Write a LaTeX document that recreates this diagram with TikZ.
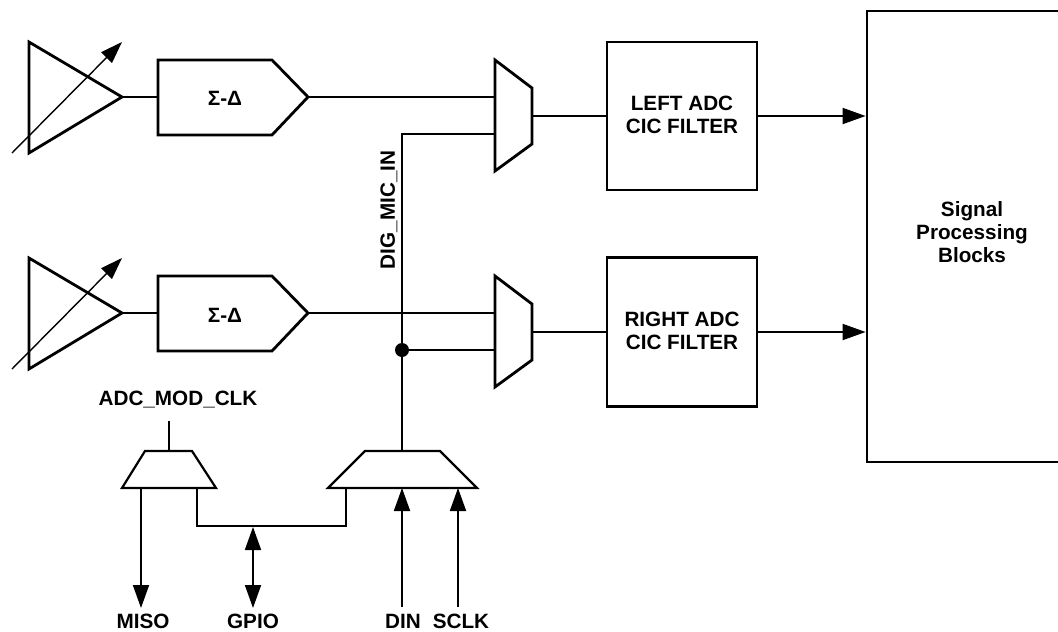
\documentclass[tikz,border=0pt]{standalone}
\usepackage{fontspec}
\setmainfont{Liberation Sans}
\usetikzlibrary{arrows.meta}
\begin{document}
\begin{tikzpicture}[x=1pt,y=-1pt,
  outline/.style={line width=2.8pt, line join=miter},
  thinoutline/.style={line width=2.2pt, line join=miter},
  wire/.style={line width=1.8pt},
  gain/.style={line width=1.4pt, -{Triangle[length=22pt,width=15pt]}},
  tip/.style={-{Triangle[length=23pt,width=16pt]}},
  twotip/.style={{Triangle[length=23pt,width=16pt]}-{Triangle[length=23pt,width=16pt]}},
  lbl/.style={font=\fontsize{20.7}{23}\selectfont\bfseries, inner sep=0pt, align=center},
  blk/.style={draw, line width=2.8pt, lbl},
  junction/.style={circle, fill=black, inner sep=0pt, minimum size=14pt}
]
\useasboundingbox (0,0) rectangle (1058,632);
\clip (0,0) rectangle (1058,632);

% ---------- amplifiers ----------
\draw[outline] (29,42) -- (29,153) -- (122,97) -- cycle;
\coordinate (amp1) at (122,97);
\coordinate (g1s) at (12,153);
\coordinate (g1e) at (122,42);
\draw[gain] (g1s) -- (g1e);

\draw[outline] (29,258) -- (29,369) -- (122,313) -- cycle;
\coordinate (amp2) at (122,313);
\coordinate (g2s) at (12,369);
\coordinate (g2e) at (122,258);
\draw[gain] (g2s) -- (g2e);

% ---------- sigma-delta modulators ----------
\draw[outline] (158,60) -- (272,60) -- (308,97) -- (272,135) -- (158,135) -- cycle;
\node[lbl] (sd1) at (225,98) {Σ-Δ};
\coordinate (sd1in) at (158,97);
\coordinate (sd1out) at (308,97);

\draw[outline] (158,276) -- (272,276) -- (308,313) -- (272,351) -- (158,351) -- cycle;
\node[lbl] (sd2) at (225,315) {Σ-Δ};
\coordinate (sd2in) at (158,313);
\coordinate (sd2out) at (308,313);

% ---------- input muxes ----------
\draw[outline] (495,60) -- (532,88) -- (532,144) -- (495,171) -- cycle;
\coordinate (m1a) at (495,97);
\coordinate (m1b) at (495,134);
\coordinate (m1out) at (532,116);

\draw[outline] (495,276) -- (532,304) -- (532,360) -- (495,387) -- cycle;
\coordinate (m2a) at (495,313);
\coordinate (m2b) at (495,350);
\coordinate (m2out) at (532,332);

% ---------- CIC filters and DSP ----------
\node[blk, minimum width=150pt, minimum height=148pt] (ladc) at (682,116) {};
\node[lbl] (ladctxt) at (682,114.5) {LEFT ADC\\CIC FILTER};
\node[blk, minimum width=150pt, minimum height=149pt] (radc) at (682,332) {};
\node[lbl] (radctxt) at (682,330.5) {RIGHT ADC\\CIC FILTER};
\node[blk, minimum width=210pt, minimum height=451pt] (spb) at (972,236.5) {};
\node[lbl] (spbtxt) at (972,232) {Signal\\Processing\\Blocks};

% ---------- bottom muxes ----------
\node[lbl] (clk) at (178,400) {ADC\_MOD\_CLK};
\coordinate (clkend) at (169,421);
\draw[thinoutline] (145,451) -- (192,451) -- (216,488) -- (122,488) -- cycle;
\coordinate (m3top) at (169,451);
\coordinate (m3o1) at (141,488);
\coordinate (m3o2) at (197,488);

\draw[thinoutline] (365,451) -- (440,451) -- (477,488) -- (328,488) -- cycle;
\coordinate (m4top) at (402,451);
\coordinate (m4i1) at (346,488);
\coordinate (m4i2) at (402,488);
\coordinate (m4i3) at (458,488);

\node[lbl] (miso) at (143,621) {MISO};
\node[lbl] (gpio) at (253,621) {GPIO};
\node[lbl] (din) at (403,621) {DIN};
\node[lbl] (sclk) at (461,621) {SCLK};
\coordinate (misoend) at (141,608);
\coordinate (gpiotop) at (253,527);
\coordinate (gpioend) at (253,608);
\coordinate (dinend) at (402,607);
\coordinate (sclkend) at (458,607);
\coordinate (bus) at (197,526);

% ---------- wires ----------
\draw[wire] (amp1) -- (sd1in);
\draw[wire] (amp2) -- (sd2in);
\draw[wire] (sd1out) -- (m1a);
\draw[wire] (sd2out) -- (m2a);
\draw[wire] (m1b) -| (m4top);
\node[junction] (jn) at (402,350) {};
\draw[wire] (jn.center) -- (m2b);
\draw[wire] (m1out) -- (ladc.west);
\draw[wire] (m2out) -- (radc.west);
\draw[wire, tip] (ladc.east) -- (ladc.east -| spb.west);
\draw[wire, tip] (radc.east) -- (radc.east -| spb.west);

\node[lbl, rotate=90] (dmic) at (389,210) {DIG\_MIC\_IN};

\draw[wire] (clkend) -- (m3top);
\draw[wire, tip] (m3o1) -- (misoend);
\draw[wire] (m3o2) -- (bus) -| (m4i1);
\draw[wire, twotip] (gpiotop) -- (gpioend);
\draw[wire, tip] (dinend) -- (m4i2);
\draw[wire, tip] (sclkend) -- (m4i3);
\end{tikzpicture}
\end{document}
